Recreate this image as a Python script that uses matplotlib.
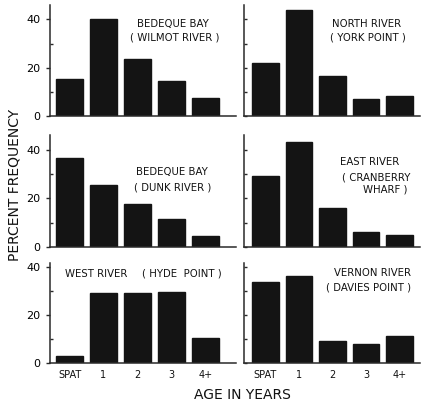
import matplotlib
matplotlib.use("Agg")
import matplotlib.pyplot as plt

# age classes
ages = ["SPAT", "1", "2", "3", "4+"]

# percent frequency per site
bedeque_wilmot = [15.5, 40, 23.5, 14.5, 7.5]
north_york = [22, 44, 16.5, 7, 8.2]
bedeque_dunk = [36.5, 25.5, 17.5, 11.5, 4.5]
east_cranberry = [29, 43, 16, 6, 4.8]
west_hyde = [2.8, 29, 29, 29.3, 10.3]
vernon_davies = [33.5, 36, 9, 7.8, 11.3]

W, H = 427, 403
fig = plt.figure(figsize=(W / 100, H / 100), dpi=100)
plt.rcParams["font.family"] = "DejaVu Sans"

BAR = "#141414"
AX = "#2a2a2a"

def px_axes(x0, x1, ytop, ybot):
    return fig.add_axes([x0 / W, 1 - ybot / H, (x1 - x0) / W, (ybot - ytop) / H])

def panel(ax, values, ymax, xlim, left, bottom):
    ax.bar(range(len(values)), values, width=0.8, color=BAR, edgecolor=BAR)
    ax.set_xlim(*xlim)
    ax.set_ylim(0, ymax)
    for s in ["top", "right"]:
        ax.spines[s].set_visible(False)
    for s in ["left", "bottom"]:
        ax.spines[s].set_color(AX)
        ax.spines[s].set_linewidth(1.1)
    ax.tick_params(axis="x", length=0)
    ax.set_yticks([0, 20, 40])
    ax.set_yticks([10, 30], minor=True)
    if left:
        ax.tick_params(axis="y", which="major", direction="out", length=3,
                       width=1, color=AX, labelsize=8, pad=4)
        ax.tick_params(axis="y", which="minor", direction="in", length=2,
                       width=1, color=AX)
    else:
        ax.tick_params(axis="y", which="both", direction="in", length=2,
                       width=1, color=AX, labelleft=False)
    if bottom:
        ax.set_xticks(range(len(ages)))
        ax.set_xticklabels(ages, fontsize=7, color="#111")
        ax.tick_params(axis="x", pad=5)
    else:
        ax.set_xticks([])

rows = [(5, 116, 46), (135, 247, 46), (263, 363, 41.5)]
data = [(bedeque_wilmot, north_york),
        (bedeque_dunk, east_cranberry),
        (west_hyde, vernon_davies)]

for r, ((yt, yb, ymax), (lv, rv)) in enumerate(zip(rows, data)):
    axl = px_axes(50, 236, yt, yb)
    panel(axl, lv, ymax, (-0.574, 4.9), True, r == 2)
    axr = px_axes(244, 420, yt, yb)
    panel(axr, rv, ymax, (-0.64, 4.61), False, r == 2)

def ftext(x, y, s, size=7.3, ha="center", **kw):
    fig.text(x / W, 1 - y / H, s, fontsize=size, ha=ha, va="center", color="#111", **kw)

# panel labels
ftext(173, 24, "BEDEQUE BAY")
ftext(175, 38, "( WILMOT RIVER )")
ftext(367, 24, "NORTH RIVER")
ftext(368, 38, "( YORK POINT )")
ftext(172, 172, "BEDEQUE BAY")
ftext(173, 187, "( DUNK RIVER )")
ftext(370, 162, "EAST RIVER")
ftext(376, 177, "( CRANBERRY")
ftext(385, 190, "WHARF )")
ftext(65, 274, "WEST RIVER", ha="left")
ftext(142, 274, "( HYDE  POINT )", ha="left")
ftext(373, 273, "VERNON RIVER")
ftext(369, 288, "( DAVIES POINT )")

# axis titles
ftext(242, 395, "AGE IN YEARS", size=10)
ftext(15, 185, "PERCENT FREQUENCY", size=10, rotation=90)

fig.savefig("out.png", dpi=100, facecolor="white")
